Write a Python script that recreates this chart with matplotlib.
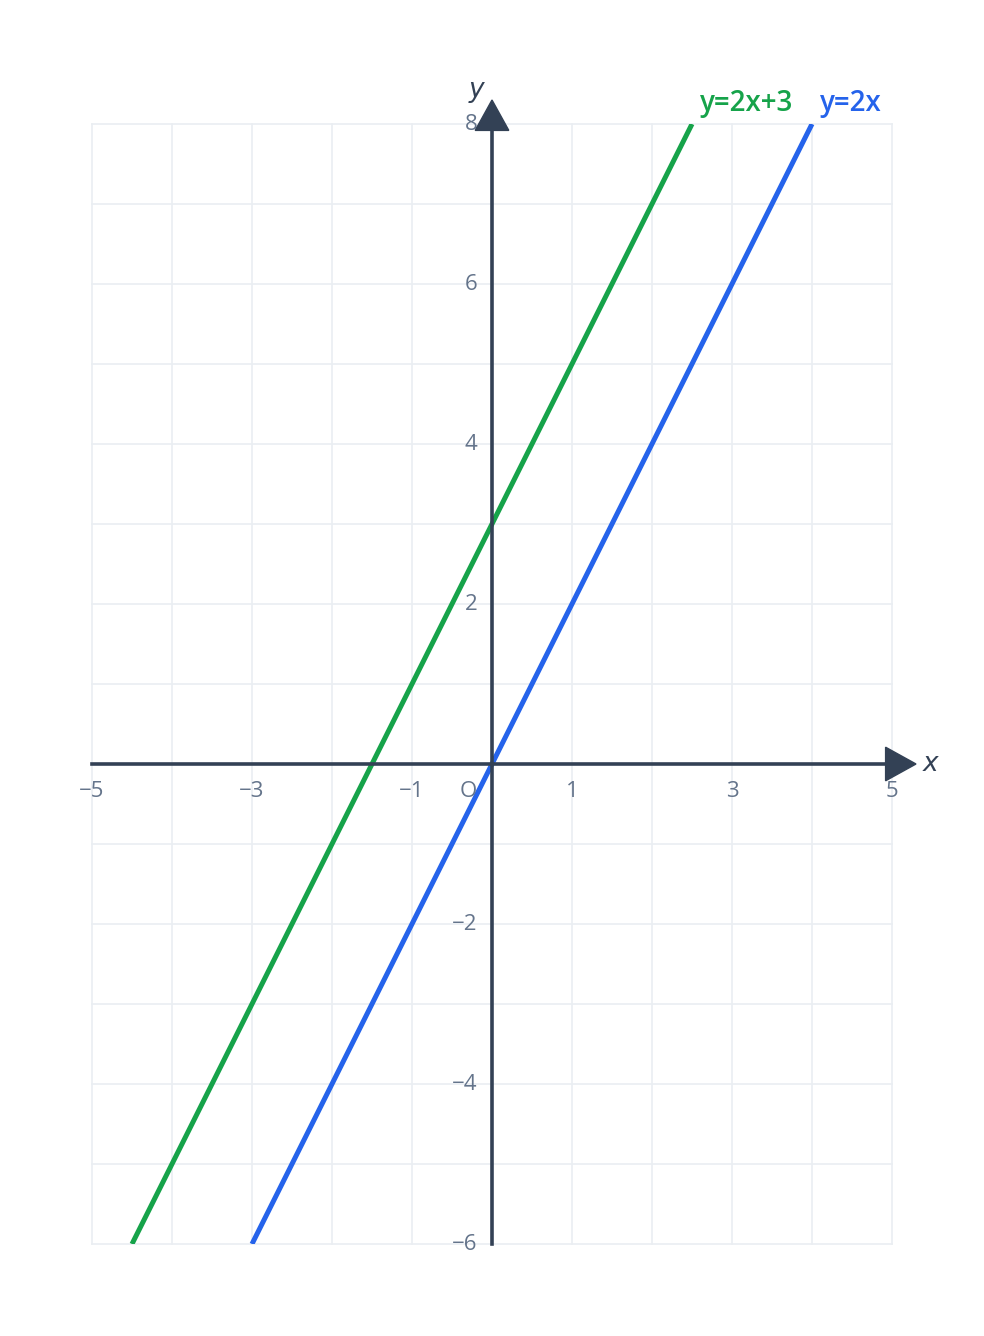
import numpy as np
import matplotlib.pyplot as plt

plt.rcParams['font.family'] = ['Open Sans', 'DejaVu Sans']

x_ticks = [-5, -3, -1, 1, 3, 5]
y_ticks = [8, 6, 4, 2, -2, -4, -6]
lines = [
    ('y=2x+3', 2, 3, '#16a34a'),
    ('y=2x', 2, 0, '#2563eb'),
]
x_min, x_max = -5, 5
y_min, y_max = -6, 8

axis_col = '#334155'
tick_col = '#64748b'
grid_col = '#eaeef2'

fig = plt.figure(figsize=(9.84, 13.36), dpi=100)
ax = fig.add_axes([92 / 984, 1 - 1244 / 1336, 800 / 984, 1120 / 1336])
ax.set_xlim(x_min, x_max)
ax.set_ylim(y_min, y_max)
for s in ax.spines.values():
    s.set_visible(False)
ax.set_xticks([])
ax.set_yticks([])

# grid
for gx in range(x_min, x_max + 1):
    ax.plot([gx, gx], [y_min, y_max], color=grid_col, lw=1.2, zorder=1, clip_on=False)
for gy in range(y_min, y_max + 1):
    ax.plot([x_min, x_max], [gy, gy], color=grid_col, lw=1.2, zorder=1, clip_on=False)

# lines
for label, m, b, col in lines:
    xa = (y_min - b) / m
    xb = (y_max - b) / m
    ax.plot([xa, xb], [y_min, y_max], color=col, lw=3.6, zorder=3, solid_capstyle='butt')
    ax.annotate(label, (xb, y_max), xytext=(6, 15), textcoords='offset points',
                color=col, fontsize=20, fontweight='semibold', ha='left', va='center')

# axes with arrows
ax.plot([x_min, x_max - 0.08], [0, 0], color=axis_col, lw=2.6, zorder=4, clip_on=False)
ax.plot([0, 0], [y_min, y_max + 0.08], color=axis_col, lw=2.6, zorder=4, clip_on=False)
ax.fill([x_max - 0.08, x_max + 0.3, x_max - 0.08], [-0.21, 0, 0.21],
        color=axis_col, zorder=5, clip_on=False)
ax.fill([-0.21, 0, 0.21], [y_max - 0.08, y_max + 0.3, y_max - 0.08],
        color=axis_col, zorder=5, clip_on=False)
ax.text(x_max + 0.48, 0, 'x', fontsize=19, style='italic', color=axis_col,
        ha='center', va='center', family=['DejaVu Sans'])
ax.text(-0.2, y_max + 0.42, 'y', fontsize=19, style='italic', color=axis_col,
        ha='center', va='center', family=['DejaVu Sans'])

# tick labels
for t in x_ticks:
    ax.text(t, -0.34, str(t).replace('-', '\u2212'), fontsize=16, color=tick_col,
            ha='center', va='center')
ax.text(-0.3, -0.34, 'O', fontsize=16, color=tick_col, ha='center', va='center')
for t in y_ticks:
    ax.text(-0.18, t, str(t).replace('-', '\u2212'), fontsize=16, color=tick_col,
            ha='right', va='center')

fig.savefig('out.png', dpi=100)
